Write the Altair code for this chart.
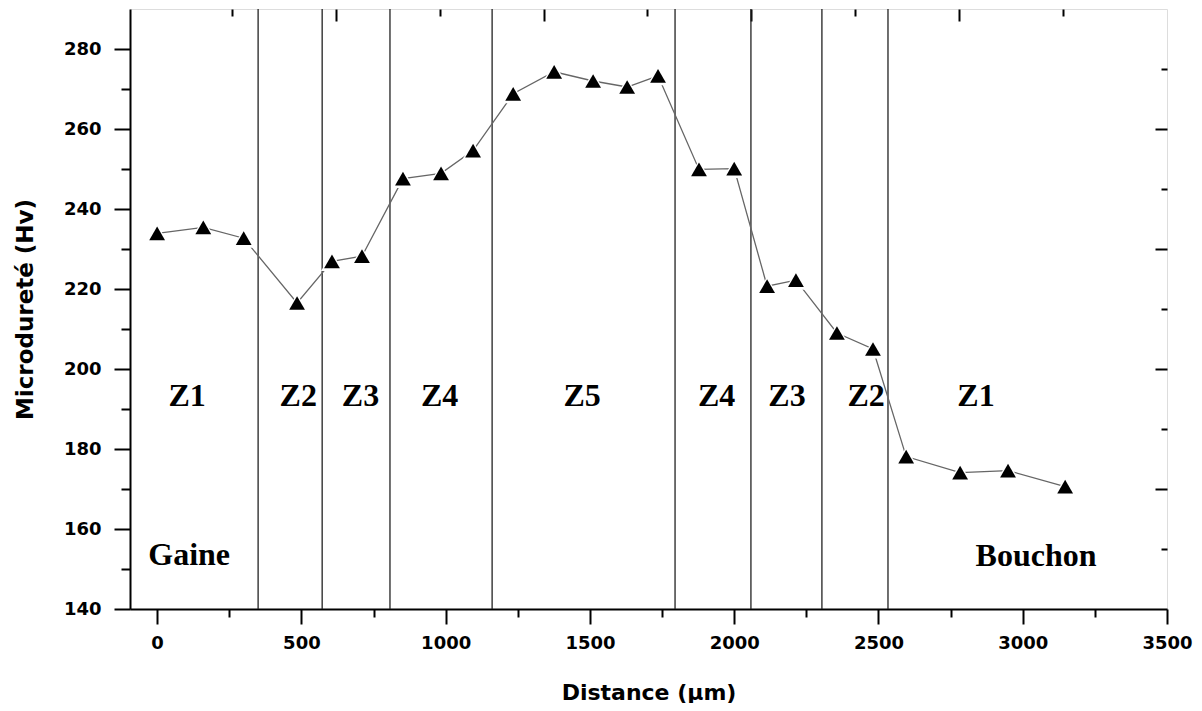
import altair as alt
import pandas as pd

# Measured data
distance = [0, 160, 300, 485, 606, 710, 852, 984, 1095, 1234, 1376, 1511, 1629, 1736,
            1878, 2000, 2114, 2214, 2356, 2481, 2596, 2783, 2949, 3147]
hardness = [233.9, 235.4, 232.7, 216.5, 226.9, 228.2, 247.6, 248.9, 254.6, 268.8, 274.3,
            272.0, 270.5, 273.3, 249.9, 250.1, 220.7, 222.2, 209.0, 205.0, 178.1, 174.1,
            174.6, 170.6]

zone_bounds = [350, 572, 807, 1161, 1795, 2058, 2304, 2533]

zone_names = ["Z1", "Z2", "Z3", "Z4", "Z5", "Z4", "Z3", "Z2", "Z1"]
zone_x = [104, 489, 705, 979, 1473, 1939, 2183, 2457, 2838]
zone_y = [193.3] * 9

side_names = ["Gaine", "Bouchon"]
side_x = [111, 3046]
side_y = [153.6, 153.3]

x_major = [0, 500, 1000, 1500, 2000, 2500, 3000, 3500]
x_minor = [250, 750, 1250, 1750, 2250, 2750, 3250]
y_major = [140, 160, 180, 200, 220, 240, 260, 280]
y_minor = [150, 170, 190, 210, 230, 250, 270]
top_short = [260, 981, 1698, 2419, 3140]
top_long = [620, 1341, 2058, 2779]
right_long = [170, 200, 230, 260]
right_short = [155, 185, 215, 245, 275]

XDOM = [-94, 3500]
YDOM = [140, 290]

pts = pd.DataFrame({"x": distance, "y": hardness})
zones = pd.DataFrame({"x": zone_bounds})
zlab = pd.DataFrame({"x": zone_x, "y": zone_y, "t": zone_names})
slab = pd.DataFrame({"x": side_x, "y": side_y, "t": side_names})

xs = alt.Scale(domain=XDOM, nice=False, zero=False)
ys = alt.Scale(domain=YDOM, nice=False, zero=False)

AF = "DejaVu Sans"

def minor_axis(values, orient, size, offset=0):
    kw = dict(values=values, orient=orient, tickSize=size, labels=False, domain=False,
              title=None, grid=False, tickColor="black", tickWidth=2)
    if offset:
        kw["offset"] = offset
    return alt.Axis(**kw)

line = alt.Chart(pts).mark_line(color="#666666", strokeWidth=1.3).encode(
    x=alt.X("x:Q", scale=xs, axis=alt.Axis(
        values=x_major, orient="bottom", tickSize=15, labelPadding=10, format="d",
        labelFont=AF, labelFontSize=18, labelFontWeight="bold", labelColor="black",
        title="Distance (µm)", titleFont=AF, titleFontSize=22, titleFontWeight="bold",
        titleColor="black", titlePadding=30, grid=False, domainColor="black",
        domainWidth=2, tickColor="black", tickWidth=2, labelFlush=False)),
    y=alt.Y("y:Q", scale=ys, axis=alt.Axis(
        values=y_major, orient="left", tickSize=16, labelPadding=13, format="d",
        labelFont=AF, labelFontSize=18, labelFontWeight="bold", labelColor="black",
        title="Microdureté (Hv)", titleFont=AF, titleFontSize=23, titleFontWeight="bold",
        titleColor="black", titlePadding=26, grid=False, domainColor="black",
        domainWidth=2, tickColor="black", tickWidth=2, labelFlush=False)),
)

halo = alt.Chart(pts).mark_point(shape="triangle-up", filled=True, color="white",
                                 opacity=1, size=480).encode(
    x=alt.X("x:Q", scale=xs, axis=None),
    y=alt.Y("y:Q", scale=ys, axis=None),
)

tri = alt.Chart(pts).mark_point(shape="triangle-up", filled=True, color="black",
                                opacity=1, size=250).encode(
    x=alt.X("x:Q", scale=xs, axis=minor_axis(x_minor, "bottom", 8)),
    y=alt.Y("y:Q", scale=ys, axis=minor_axis(y_minor, "left", 9)),
)

rules = alt.Chart(zones).mark_rule(color="#222222", strokeWidth=1.3).encode(
    x=alt.X("x:Q", scale=xs, axis=None),
)

ztext = alt.Chart(zlab).mark_text(font="Liberation Serif", fontSize=32,
                                  fontWeight="bold", color="black",
                                  baseline="middle", align="center").encode(
    x=alt.X("x:Q", scale=xs, axis=minor_axis(top_long, "top", 12, -12)),
    y=alt.Y("y:Q", scale=ys, axis=minor_axis(right_long, "right", 12, -12)),
    text="t:N",
)

stext = alt.Chart(slab).mark_text(font="Liberation Serif", fontSize=32,
                                  fontWeight="bold", color="black",
                                  baseline="middle", align="center").encode(
    x=alt.X("x:Q", scale=xs, axis=minor_axis(top_short, "top", 7, -7)),
    y=alt.Y("y:Q", scale=ys, axis=minor_axis(right_short, "right", 6, -6)),
    text="t:N",
)

chart = alt.layer(rules, line, halo, tri, ztext, stext).resolve_axis(
    x="independent", y="independent"
).properties(
    width=1037, height=600,
    autosize=alt.AutoSizeParams(type="none"),
    padding={"left": 122, "top": 1, "right": 27, "bottom": 94},
).configure_view(stroke="black", strokeWidth=2).configure(background="white")

chart.save("out.html", embed_options={"renderer": "svg", "actions": False})
